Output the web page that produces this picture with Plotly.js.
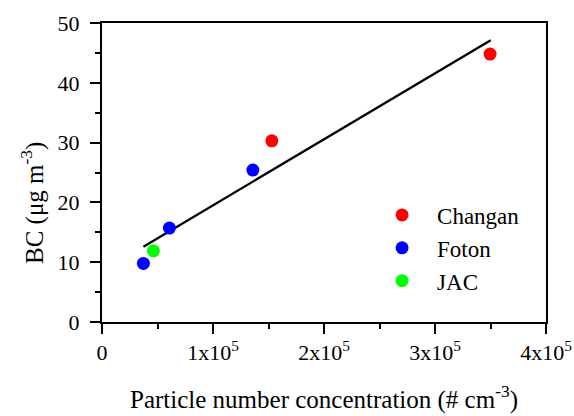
<!DOCTYPE html>
<html>
<head>
<meta charset="utf-8">
<script src="https://cdn.plot.ly/plotly-3.0.1.min.js"></script>
<style>html,body{margin:0;padding:0;background:#fff;}#chart{width:574px;height:416px;}</style>
</head>
<body>
<div id="chart"></div>
<script>
var changanX = [153000, 349600];
var changanY = [30.3, 44.8];
var fotonX = [37300, 60700, 135900];
var fotonY = [9.8, 15.7, 25.4];
var jacX = [46300];
var jacY = [11.9];
var fitX = [37300, 350200];
var fitY = [12.6, 47.1];
var xTickVals = [0, 100000, 200000, 300000, 400000];
var xTickText = ['0', '1x10<sup>5</sup>', '2x10<sup>5</sup>', '3x10<sup>5</sup>', '4x10<sup>5</sup>'];
var yTickVals = [0, 10, 20, 30, 40, 50];

var font = 'Liberation Serif';

var traces = [
  {x: fitX, y: fitY, mode: 'lines', line: {color: '#000', width: 2.3}, showlegend: false, hoverinfo: 'skip'},
  {x: changanX, y: changanY, name: 'Changan', mode: 'markers', marker: {color: '#ff0000', size: 13}},
  {x: fotonX, y: fotonY, name: 'Foton', mode: 'markers', marker: {color: '#0000ff', size: 13}},
  {x: jacX, y: jacY, name: 'JAC', mode: 'markers', marker: {color: '#00ff00', size: 13}}
];

function axisCommon() {
  return {
    showgrid: false, zeroline: false, showline: true, linecolor: '#000', linewidth: 2,
    mirror: true, ticks: 'outside', ticklen: 10, tickwidth: 2, tickcolor: '#000',
    tickfont: {family: font, size: 22, color: '#000'}
  };
}

var layout = {
  width: 574, height: 416,
  margin: {l: 102, r: 28, t: 23, b: 94, pad: 0},
  paper_bgcolor: '#fff', plot_bgcolor: '#fff',
  font: {family: font, color: '#000', size: 22},
  xaxis: Object.assign(axisCommon(), {
    range: [0, 400000], tickmode: 'array', tickvals: xTickVals, ticktext: xTickText,
    minor: {dtick: 50000, tick0: 0, ticks: 'outside', ticklen: 5, tickwidth: 2, tickcolor: '#000'}
  }),
  yaxis: Object.assign(axisCommon(), {
    range: [0, 50], tickmode: 'array', tickvals: yTickVals,
    ticklabelstandoff: 6,
    minor: {dtick: 5, tick0: 0, ticks: 'outside', ticklen: 5, tickwidth: 2, tickcolor: '#000'}
  }),
  showlegend: true,
  legend: {
    x: 0.597, y: 0.43, xanchor: 'left', yanchor: 'top',
    bgcolor: 'rgba(0,0,0,0)', borderwidth: 0,
    font: {family: font, size: 23, color: '#000'},
    itemwidth: 60, tracegroupgap: 0
  },
  annotations: [
    {text: 'Particle number concentration (# cm<sup>-3</sup>)', xref: 'paper', yref: 'paper',
     x: 0.5, y: 0, xanchor: 'center', yanchor: 'bottom', yshift: -94, showarrow: false,
     font: {family: font, size: 25, color: '#000'}},
    {text: 'BC (μg m<sup>-3</sup>)', xref: 'paper', yref: 'y',
     x: 0, y: 19.9, xanchor: 'center', yanchor: 'middle', xshift: -70, textangle: -90, showarrow: false,
     font: {family: font, size: 25, color: '#000'}}
  ]
};

Plotly.newPlot('chart', traces, layout, {displayModeBar: false, staticPlot: true});
</script>
</body>
</html>
